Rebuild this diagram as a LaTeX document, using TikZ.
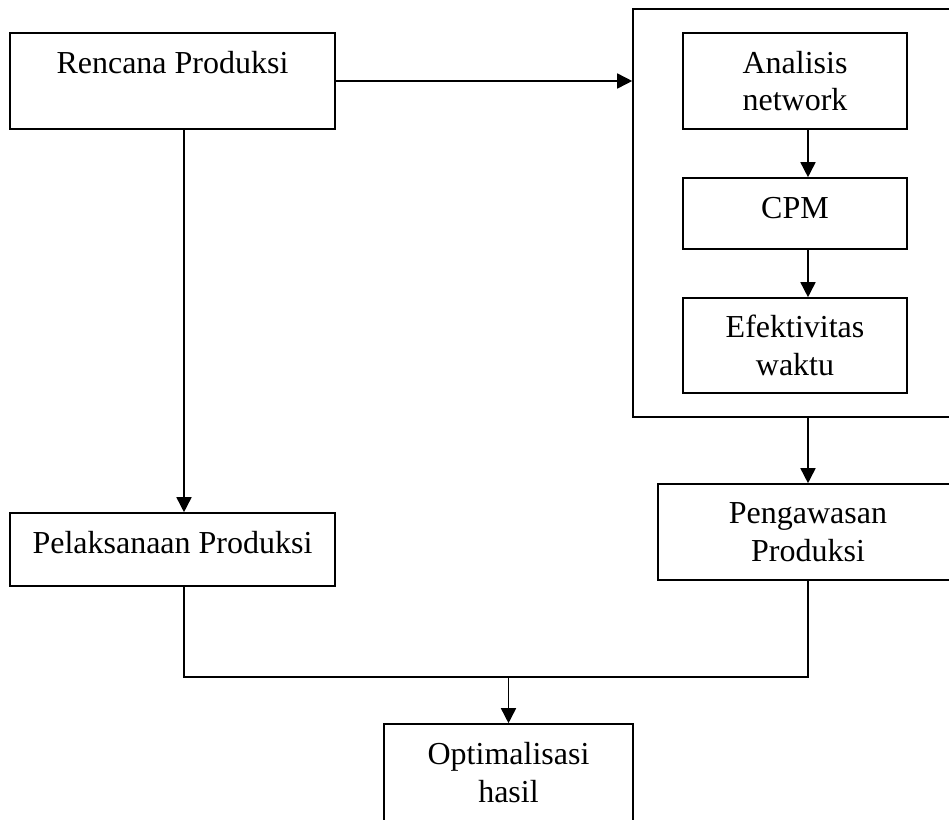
\documentclass[tikz,border=0pt]{standalone}
\usepackage{fontspec}
\setmainfont{Liberation Serif}
\usetikzlibrary{arrows.meta}
\tikzset{
  blok/.style={draw,line width=1.6pt,align=center,inner sep=0pt,font=\fontsize{32}{37.5}\selectfont},
  panah/.style={-{Triangle[length=15pt,width=15pt]},line width=1.6pt}
}

\begin{document}
\begin{tikzpicture}[x=1pt,y=-1pt]
\useasboundingbox (0,0) rectangle (949,819);
\clip (0,0) rectangle (949,819);
% kotak kiri
\node[blok,minimum width=325pt,minimum height=96pt,text height=22pt,text depth=38pt] (rencana) at (172.5,81) {Rencana Produksi};
\node[blok,minimum width=325pt,minimum height=73pt,text height=22pt,text depth=15pt] (pelaksanaan) at (172.5,549.5) {Pelaksanaan Produksi};
% kotak kanan
\node[blok,minimum width=347pt,minimum height=408pt] (wadah) at (806.5,213) {};
\node[blok,minimum width=224pt,minimum height=96pt] (analisis) at (795,81) {Analisis\\network};
\node[blok,minimum width=224pt,minimum height=71pt,text height=22pt,text depth=13pt] (cpm) at (795,213.5) {CPM};
\node[blok,minimum width=224pt,minimum height=95pt] (efektivitas) at (795,345.5) {Efektivitas\\waktu};
\node[blok,minimum width=300pt,minimum height=96pt] (pengawasan) at (808,532) {Pengawasan\\Produksi};
\node[blok,minimum width=249pt,minimum height=97pt] (optimalisasi) at (508.5,772.5) {Optimalisasi\\hasil};
% titik belok
\coordinate (kiri) at (184,677);
\coordinate (kanan) at (808,677);
% penghubung
\draw[panah] (rencana.east) -- (rencana.east -| wadah.west);
\draw[panah] (rencana.south -| kiri) -- (pelaksanaan.north -| kiri);
\draw[panah] (analisis.south -| kanan) -- (cpm.north -| kanan);
\draw[panah] (cpm.south -| kanan) -- (efektivitas.north -| kanan);
\draw[panah] (wadah.south -| kanan) -- (pengawasan.north -| kanan);
\draw[line width=1.6pt] (pelaksanaan.south -| kiri) -- (kiri) -- (kanan) -- (pengawasan.south -| kanan);
\draw[panah] (optimalisasi.north |- kiri) -- (optimalisasi.north);
\end{tikzpicture}
\end{document}
